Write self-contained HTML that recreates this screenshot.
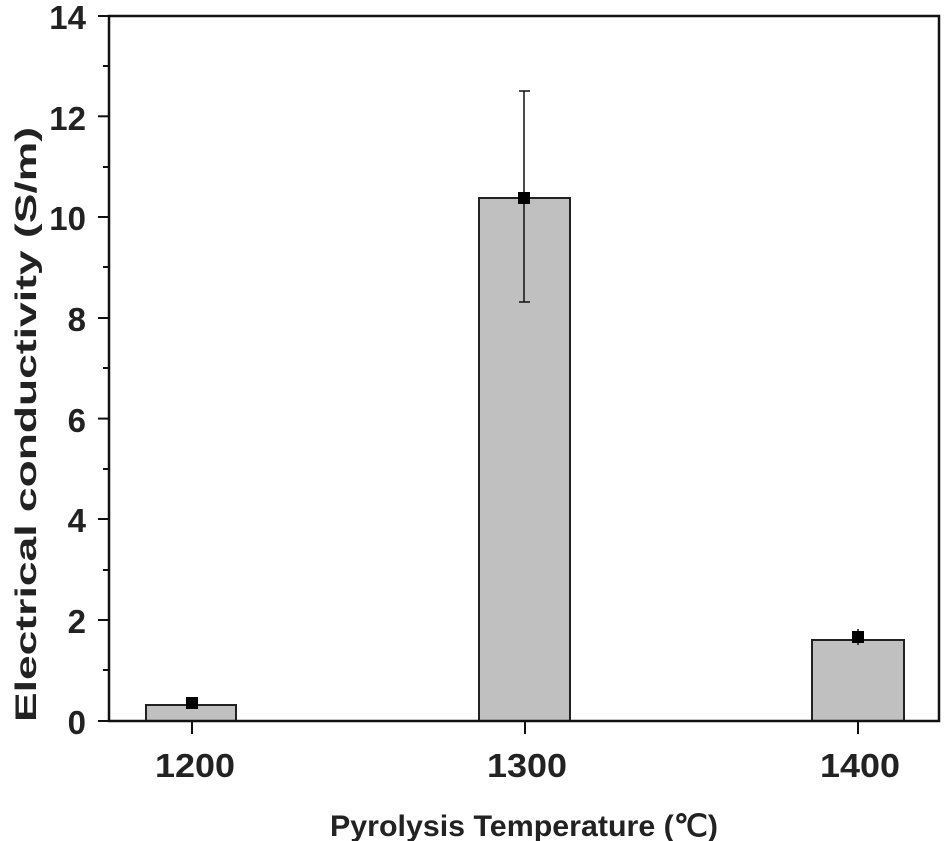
<!DOCTYPE html>
<html><head><meta charset="utf-8"><style>body{margin:0;background:#fff}svg{display:block}</style></head><body>
<svg width="945" height="841" viewBox="0 0 945 841" font-family="Liberation Sans, Arial, sans-serif" font-weight="bold">
<rect width="945" height="841" fill="#fff"/>
<g fill="#c0c0c0" stroke="#222" stroke-width="2">
<rect x="146" y="705" width="90" height="16"/>
<rect x="479" y="198" width="91" height="523"/>
<rect x="812" y="640" width="92" height="81"/>
</g>
<g stroke="#111" stroke-width="1.5">
<line x1="524" y1="91" x2="524" y2="302"/>
<line x1="519" y1="91" x2="530" y2="91"/>
<line x1="519" y1="302" x2="530" y2="302"/>
<line x1="192" y1="697" x2="192" y2="704"/>
<line x1="858" y1="629" x2="858" y2="645"/>
</g>
<g fill="#000">
<rect x="186" y="697" width="12" height="12"/>
<rect x="518" y="192" width="12" height="12"/>
<rect x="852" y="631" width="12" height="12"/>
</g>
<rect x="109" y="16" width="830" height="705" fill="none" stroke="#111" stroke-width="2.5"/>
<g stroke="#111" stroke-width="2">
<line x1="98" y1="16" x2="109" y2="16"/><line x1="98" y1="116.3" x2="109" y2="116.3"/><line x1="98" y1="217" x2="109" y2="217"/><line x1="98" y1="318" x2="109" y2="318"/><line x1="98" y1="418.6" x2="109" y2="418.6"/><line x1="98" y1="519" x2="109" y2="519"/><line x1="98" y1="620" x2="109" y2="620"/><line x1="98" y1="721" x2="109" y2="721"/>
<line x1="103" y1="66" x2="109" y2="66"/><line x1="103" y1="167" x2="109" y2="167"/><line x1="103" y1="267" x2="109" y2="267"/><line x1="103" y1="368" x2="109" y2="368"/><line x1="103" y1="469" x2="109" y2="469"/><line x1="103" y1="570" x2="109" y2="570"/><line x1="103" y1="670" x2="109" y2="670"/>
<line x1="192" y1="721" x2="192" y2="734"/><line x1="525" y1="721" x2="525" y2="734"/><line x1="858" y1="721" x2="858" y2="734"/>
</g>
<g font-size="33" text-anchor="end" fill="#222">
<text x="86" y="29">14</text><text x="86" y="130">12</text><text x="86" y="230">10</text><text x="86" y="331">8</text><text x="86" y="432">6</text><text x="86" y="532">4</text><text x="86" y="633">2</text><text x="86" y="734">0</text>
</g>
<g font-size="33" fill="#222">
<text x="155" y="777" textLength="80" lengthAdjust="spacingAndGlyphs">1200</text>
<text x="487" y="777" textLength="80" lengthAdjust="spacingAndGlyphs">1300</text>
<text x="820" y="777" textLength="80" lengthAdjust="spacingAndGlyphs">1400</text>
<text x="330" y="836" font-size="30" textLength="388" lengthAdjust="spacingAndGlyphs">Pyrolysis Temperature (℃)</text>
<text transform="translate(36,722) rotate(-90)" font-size="30" textLength="595" lengthAdjust="spacingAndGlyphs">Electrical conductivity (S/m)</text>
</g>
</svg>
</body></html>
